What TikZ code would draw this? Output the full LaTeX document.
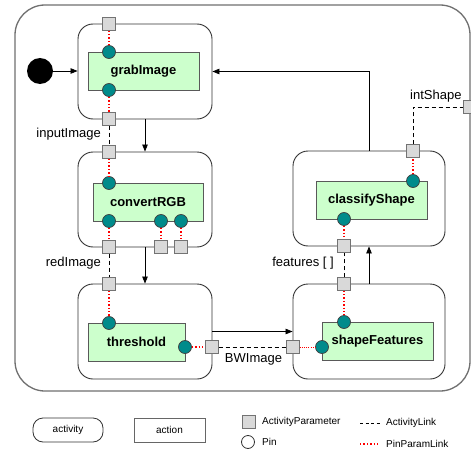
\documentclass[tikz,border=0pt]{standalone}
\usepackage{fontspec}
\setmainfont{Liberation Sans}
\usepackage{xcolor}
\usetikzlibrary{calc, arrows.meta}

\definecolor{actionfill}{HTML}{CCFFCC}
\definecolor{pinfill}{HTML}{008B8B}
\definecolor{paramfill}{HTML}{D9D9D9}
\definecolor{framegray}{HTML}{707070}

\tikzset{
	actbox/.style={draw=black!80, line width=0.9pt, rounded corners=15pt, minimum width=134pt, minimum height=95pt},
	actionbox/.style={draw=black!65, line width=0.9pt, fill=actionfill, minimum width=111pt, minimum height=38pt, font=\fontsize{13}{15}\selectfont\bfseries},
	pinball/.style={circle, draw=black!75, line width=0.7pt, fill=pinfill, minimum size=13pt, inner sep=0pt},
	parambox/.style={draw=black!55, line width=0.7pt, fill=paramfill, minimum size=12.5pt, inner sep=0pt},
	actlink/.style={line width=0.9pt, dash pattern=on 4pt off 3pt},
	pinlink/.style={red, line width=1.4pt, dash pattern=on 1.4pt off 2pt},
	flow/.style={-{Triangle[length=7pt,width=5.5pt]}, line width=0.8pt},
	linktext/.style={inner sep=0pt, font=\fontsize{13}{15}\selectfont},
	legendtext/.style={inner sep=0pt, font=\fontsize{10}{12}\selectfont}
}

\begin{document}
\begin{tikzpicture}[x=1pt, y=-1pt]
			\useasboundingbox (0,0) rectangle (471,452);
			\fill [white] (0,0) rectangle (471,452);

			\node [draw=framegray, line width=1.3pt, rounded corners=30pt, minimum width=455pt, minimum height=386pt] (frame) at (242.5,198) {};

			\node [circle, fill=black, minimum size=26pt, inner sep=0pt] (init) at (40,71) {};

			\begin{scope}
				\node [actbox] (grabAct) at (145,71.5) {};
				\node [actbox] (convAct) at (145,199.5) {};
				\node [actbox] (thrAct) at (145,331.5) {};
				\node [actbox, minimum width=152pt] (shfAct) at (369,331.5) {};
				\node [actbox, minimum width=152pt] (clsAct) at (369,198.5) {};
			\end{scope}

			\begin{scope}
				\node [actionbox] (grabImage) at (143.5,71) {grabImage};
				\node [actionbox, minimum width=110pt] (convertRGB) at (148,202) {convertRGB};
				\node [actionbox, minimum width=97pt] (threshold) at (136.5,342) {threshold};
				\node [actionbox] (shapeFeatures) at (377.5,341) {shapeFeatures};
				\node [actionbox] (classifyShape) at (371.5,200) {classifyShape};
			\end{scope}

			\begin{scope}
				\node [pinball] (grabPinIn) at (109,52) {};
				\node [pinball] (grabPinOut) at (109,90) {};
				\node [pinball] (convPinIn) at (109,183) {};
				\node [pinball] (convPinOut) at (109,221) {};
				\node [pinball] (convPinA) at (161,221) {};
				\node [pinball] (convPinB) at (181,221) {};
				\node [pinball] (thrPinIn) at (109,323) {};
				\node [pinball] (thrPinOut) at (185,347) {};
				\node [pinball] (shfPinIn) at (344,322) {};
				\node [pinball] (shfPinBW) at (322,347) {};
				\node [pinball] (clsPinIn) at (344,219) {};
				\node [pinball] (clsPinOut) at (413,181) {};
			\end{scope}

			\begin{scope}
				\node [parambox] (grabParIn) at (109,24) {};
				\node [parambox] (grabParOut) at (109,119) {};
				\node [parambox] (convParIn) at (109,152) {};
				\node [parambox] (convParOut) at (109,247) {};
				\node [parambox] (convParA) at (161,247) {};
				\node [parambox] (convParB) at (181,247) {};
				\node [parambox] (thrParIn) at (109,284) {};
				\node [parambox] (thrParOut) at (212,347) {};
				\node [parambox] (shfParIn) at (344,284) {};
				\node [parambox] (shfParBW) at (293,347) {};
				\node [parambox] (clsParIn) at (344,246) {};
				\node [parambox] (clsParOut) at (413,151) {};
				\node [parambox] (intShapePar) at (470,107) {};
			\end{scope}

			\begin{scope}
				\draw [pinlink] (grabParIn) -- (grabPinIn);
				\draw [pinlink] (grabPinOut) -- (grabParOut);
				\draw [pinlink] (convParIn) -- (convPinIn);
				\draw [pinlink] (convPinOut) -- (convParOut);
				\draw [pinlink] (convPinA) -- (convParA);
				\draw [pinlink] (convPinB) -- (convParB);
				\draw [pinlink] (thrParIn) -- (thrPinIn);
				\draw [pinlink] (thrPinOut) -- (thrParOut);
				\draw [pinlink, line width=0.8pt, dash pattern=on 1pt off 1.2pt] (shfParBW) -- (shfPinBW);
				\draw [pinlink] (shfParIn) -- (shfPinIn);
				\draw [pinlink] (clsPinIn) -- (clsParIn);
				\draw [pinlink] (clsPinOut) -- (clsParOut);
			\end{scope}

			\begin{scope}
				\draw [actlink] (grabParOut) -- (convParIn);
				\draw [actlink] (convParOut) -- (thrParIn);
				\draw [actlink] (thrParOut) -- (shfParBW);
				\draw [actlink] (shfParIn) -- (clsParIn);
				\draw [actlink] (clsParOut) |- (intShapePar);
			\end{scope}

			\begin{scope}
				\draw [flow] (init) -- (init -| grabAct.west);
				\draw [flow] (grabAct.south) -- (convAct.north);
				\draw [flow] (convAct.south) -- (thrAct.north);
				\draw [flow] (thrAct.east) -- (shfAct.west);
				\draw [flow] (shfAct.north) -- (clsAct.south);
				\draw [flow] (clsAct.north) |- (grabAct.east);
			\end{scope}

			\node [linktext, anchor=east] (inputImage) at (101,134) {inputImage};
			\node [linktext, anchor=east] (redImage) at (101,263) {redImage};
			\node [linktext] (BWImage) at (253.5,359) {BWImage};
			\node [linktext, anchor=east] (features) at (334,263) {features [ ]};
			\node [linktext, anchor=west] (intShape) at (410,96) {intShape};

			\begin{scope}
				\node [draw=black!80, line width=0.8pt, rounded corners=10pt, minimum width=70pt, minimum height=24pt, legendtext] (legActivity) at (68,430) {activity};
				\node [draw=black!60, line width=0.9pt, minimum width=71pt, minimum height=24pt, legendtext] (legAction) at (169.5,430) {action};
				\node [parambox, minimum size=13pt] (legParam) at (249,421.5) {};
				\node [circle, draw=black!80, line width=0.8pt, fill=white, minimum size=13pt, inner sep=0pt] (legPin) at (248,442) {};
				\node [legendtext, anchor=west] (legParamText) at (262,421.5) {ActivityParameter};
				\node [legendtext, anchor=west] (legPinText) at (262,442) {Pin};

				\coordinate (legLinkA) at (360,423);
				\coordinate (legLinkB) at (380,423);
				\coordinate (legDotA) at (360,444);
				\coordinate (legDotB) at (380,444);
				\draw [line width=0.8pt, dash pattern=on 3pt off 2.5pt] (legLinkA) -- (legLinkB);
				\draw [pinlink, line width=1.2pt] (legDotA) -- (legDotB);
				\node [legendtext, anchor=west] (legLinkText) at (386,423) {ActivityLink};
				\node [legendtext, anchor=west] (legDotText) at (386,444) {PinParamLink};
			\end{scope}
		\end{tikzpicture}
\end{document}
